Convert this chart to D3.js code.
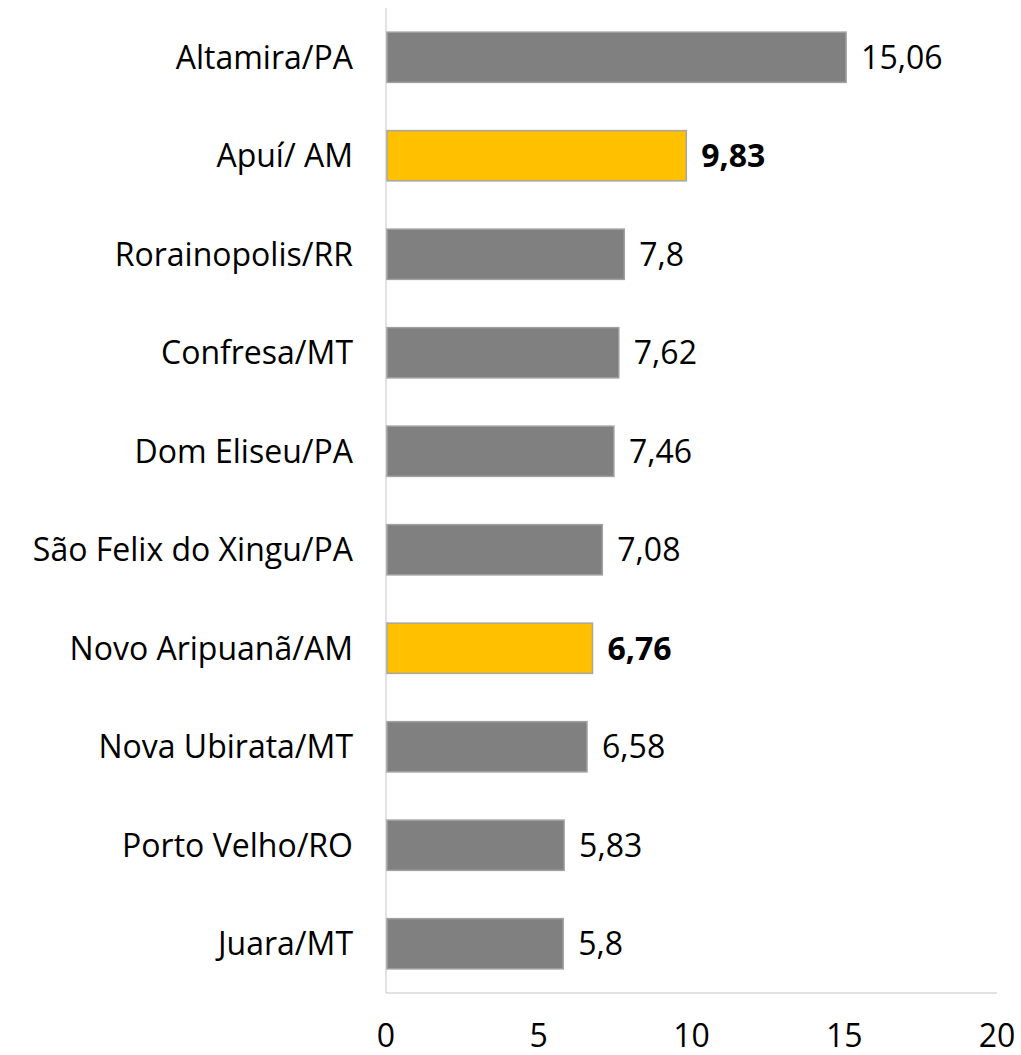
<!DOCTYPE html>
<html>
<head>
<meta charset="utf-8">
<script src="https://cdn.jsdelivr.net/npm/d3@7"></script>
<style>
body{margin:0;background:#fff;overflow:hidden;}
text{font-family:"Open Sans","Noto Sans",sans-serif;fill:#000;}
</style>
</head>
<body>
<div id="container"></div>
<script>
var cities=['Altamira/PA','Apuí/ AM','Rorainopolis/RR','Confresa/MT','Dom Eliseu/PA','São Felix do Xingu/PA','Novo Aripuanã/AM','Nova Ubirata/MT','Porto Velho/RO','Juara/MT'];
var values=[15.06,9.83,7.8,7.62,7.46,7.08,6.76,6.58,5.83,5.8];
var highlight=['Apuí/ AM','Novo Aripuanã/AM'];
var xTicks=[0,5,10,15,20];

var width=1021, height=1055;
var fs='32px';
var svg=d3.select('#container').append('svg')
    .attr('width',width).attr('height',height);

var xScale=d3.scaleLinear().domain([0,20]).range([386,997]);
var yScale=d3.scaleBand().domain(cities).range([8,993]).paddingInner(0.49).paddingOuter(0.245);

// axis lines
svg.append('line').attr('x1',xScale(0)).attr('x2',xScale(0)).attr('y1',8).attr('y2',993)
    .attr('stroke','#d9d9d9').attr('stroke-width',1.5);
svg.append('line').attr('x1',xScale(0)).attr('x2',xScale(20)).attr('y1',993).attr('y2',993)
    .attr('stroke','#d9d9d9').attr('stroke-width',1.5);

var data=cities.map((c,i)=>({name:c,value:values[i],hl:highlight.indexOf(c)>=0}));

svg.selectAll('rect.bar').data(data).enter().append('rect')
    .attr('class','bar')
    .attr('x',xScale(0)+1)
    .attr('y',d=>yScale(d.name))
    .attr('width',d=>xScale(d.value)-xScale(0)-1)
    .attr('height',yScale.bandwidth())
    .attr('fill',d=>d.hl?'#ffc000':'#808080')
    .attr('stroke',d=>d.hl?'#a6a6a6':'#a0a0a0')
    .attr('stroke-width',1.5);

svg.selectAll('text.val').data(data).enter().append('text')
    .attr('class','val')
    .attr('x',d=>xScale(d.value)+15)
    .attr('y',d=>yScale(d.name)+yScale.bandwidth()/2)
    .attr('dy','0.36em')
    .style('font-size',fs)
    .style('font-weight',d=>d.hl?'bold':'normal')
    .text(d=>String(d.value).replace('.',','));

svg.selectAll('text.cat').data(cities).enter().append('text')
    .attr('class','cat')
    .attr('x',353)
    .attr('y',d=>yScale(d)+yScale.bandwidth()/2)
    .attr('dy','0.36em')
    .attr('text-anchor','end')
    .style('font-size',fs)
    .text(d=>d);

svg.selectAll('text.tick').data(xTicks).enter().append('text')
    .attr('class','tick')
    .attr('x',d=>xScale(d))
    .attr('y',1047)
    .attr('text-anchor','middle')
    .style('font-size',fs)
    .text(d=>d);
</script>
</body>
</html>
